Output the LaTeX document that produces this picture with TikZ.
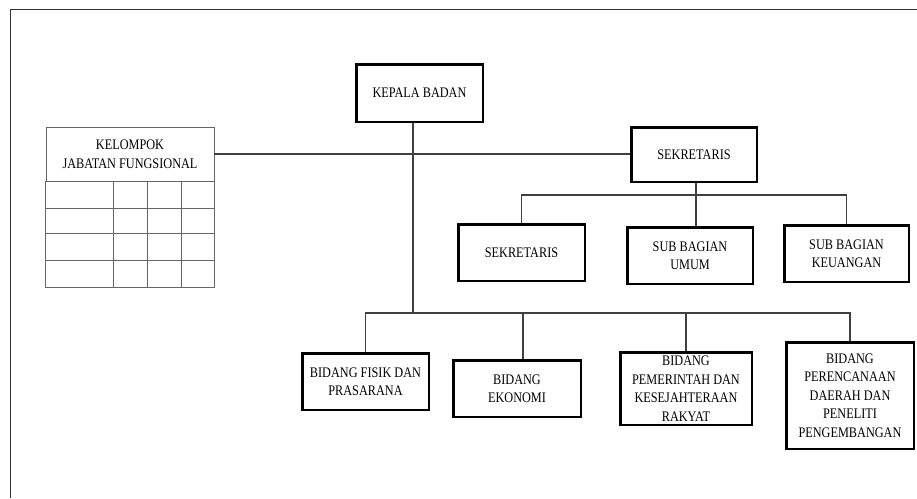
\documentclass[tikz,border=0pt]{standalone}
\usepackage{fontspec}
\setmainfont{Liberation Serif}[FakeStretch=0.84]
\begin{document}
\begin{tikzpicture}[x=1pt,y=-1pt,
  orgbox/.style={draw=black, line width=2.5pt, inner sep=0pt, align=center,
    text=black, font=\fontsize{14.6}{18.5}\selectfont},
  conn/.style={draw=black!75, line width=1.1pt},
  grid line/.style={draw=black!60, line width=0.9pt},
  frame line/.style={draw=black!80, line width=1.8pt}]
\useasboundingbox (0,0) rectangle (917,498);
\fill[white] (0,0) rectangle (917,498);
% outer frame
\draw[frame line] (10.5,498) -- (10.5,9.5) -- (917,9.5);

% boxes
\node[orgbox, minimum width=126.5pt, minimum height=57.5pt] (kb) at (419.5,93) {KEPALA BADAN};
\node[orgbox, minimum width=125.5pt, minimum height=54.5pt] (sek) at (694,154.5) {SEKRETARIS};
\node[orgbox, minimum width=126.5pt, minimum height=56.5pt] (s1) at (521.5,252.5) {SEKRETARIS};
\node[orgbox, minimum width=125.5pt, minimum height=56.5pt] (s2) at (690,255.5) {SUB BAGIAN\\UMUM};
\node[orgbox, minimum width=124.5pt, minimum height=56.5pt] (s3) at (846.5,253.5) {SUB BAGIAN\\KEUANGAN};
\node[orgbox, minimum width=126.5pt, minimum height=56.5pt] (b1) at (365.5,381.5) {BIDANG FISIK DAN\\PRASARANA};
\node[orgbox, minimum width=127.5pt, minimum height=56.5pt] (b2) at (517,388.5) {BIDANG\\EKONOMI};
\node[orgbox, minimum width=131.5pt, minimum height=72.5pt] (b3) at (686,388.5) {BIDANG\\PEMERINTAH DAN\\KESEJAHTERAAN\\RAKYAT};
\node[orgbox, minimum width=127.5pt, minimum height=106.5pt] (b4) at (850,395.5) {BIDANG\\PERENCANAAN\\DAERAH DAN\\PENELITI\\PENGEMBANGAN};

% functional group table
\node[grid line, draw, inner sep=0pt, align=center, text=black,
  font=\fontsize{14.6}{18.5}\selectfont,
  minimum width=168pt, minimum height=54pt] (kjf) at (130,154) {KELOMPOK\\JABATAN FUNGSIONAL};
\draw[grid line] (kjf.south west) rectangle (214,287);
\foreach \yy in {208,233,260} \draw[grid line] (kjf.south west |- 0,\yy) -- (214,\yy);
\foreach \xx in {113,147,181} \draw[grid line] (kjf.south west -| \xx,0) -- (\xx,287);

% junction coordinates
\coordinate (j2) at (413,313);
\coordinate (j1) at (696,195);

% connectors
\draw[conn] (kjf.east) -- (kjf.east -| sek.west);
\draw[conn] (kb.south -| j2) -- (j2);
\draw[conn] (b1.north) -- (b1.north |- j2) -- (b4.north |- j2) -- (b4.north);
\draw[conn] ([xshift=6pt]b2.north) -- ([xshift=6pt]b2.north |- j2);
\draw[conn] (b3.north) -- (b3.north |- j2);
\draw[conn] (sek.south -| j1) -- (s2.north -| j1);
\draw[conn] (s1.north) -- (s1.north |- j1) -- (s3.north |- j1) -- (s3.north);
\end{tikzpicture}
\end{document}
